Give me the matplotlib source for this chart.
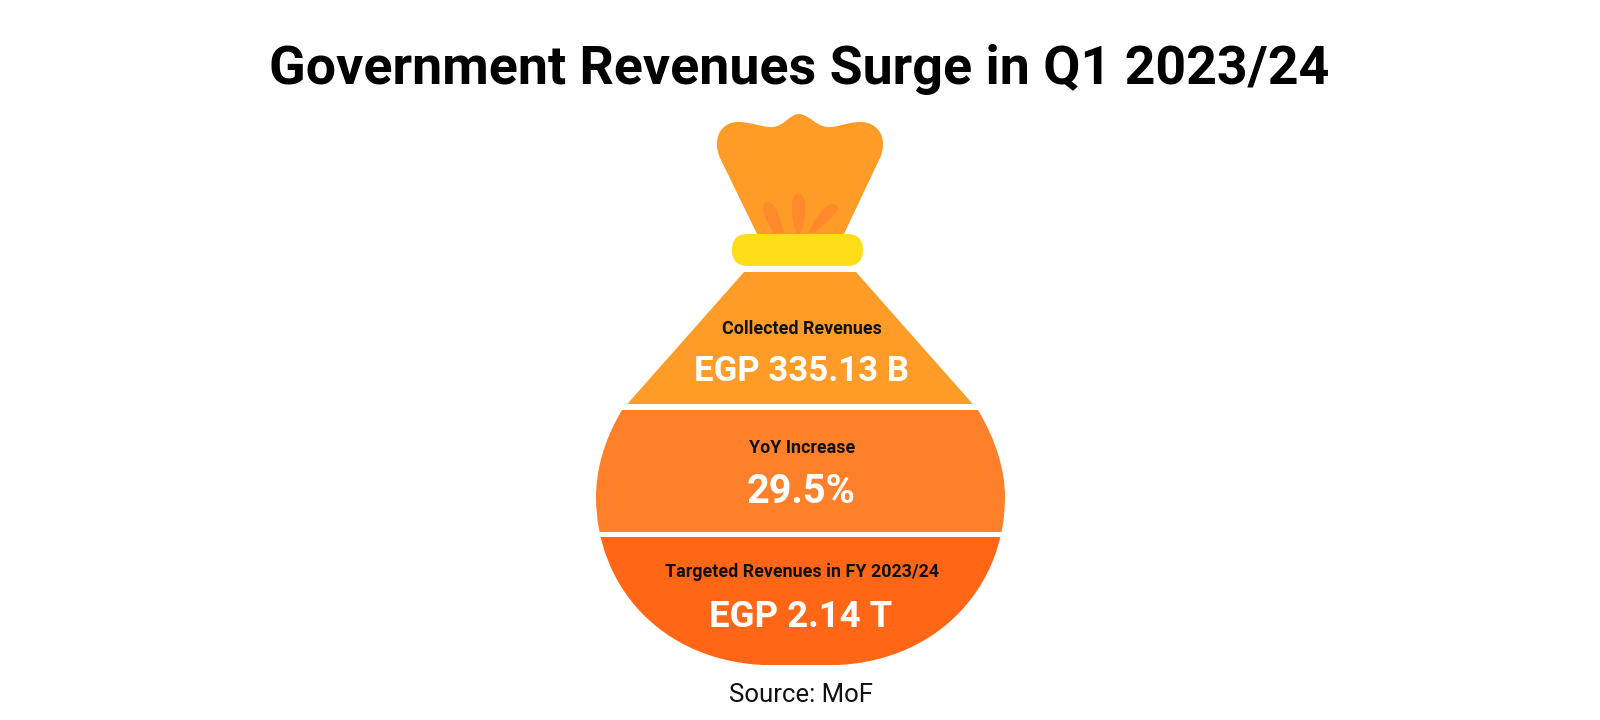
import matplotlib
matplotlib.use("Agg")
import matplotlib.pyplot as plt
import matplotlib.patches as patches
from matplotlib.path import Path

title = "Government Revenues Surge in Q1 2023/24"
source = "Source: MoF"
section_labels = ["Collected Revenues", "YoY Increase", "Targeted Revenues in FY 2023/24"]
section_values = ["EGP 335.13 B", "29.5%", "EGP 2.14 T"]

plt.rcParams['font.family'] = ['Roboto', 'DejaVu Sans']

M, L, C, Z = Path.MOVETO, Path.LINETO, Path.CURVE4, Path.CLOSEPOLY


def make_path(parts):
    # parts is a list of (code, points), curves take three points
    verts, codes = [], []
    for code, pts in parts:
        for p in pts:
            verts.append(p)
            codes.append(code)
    verts.append(verts[0])
    codes.append(Z)
    return Path(verts, codes)


fig = plt.figure(figsize=(16, 7.2), dpi=100)
ax = fig.add_axes([0, 0, 1, 1])
ax.set_xlim(0, 1600)
ax.set_ylim(720, 0)
ax.axis('off')

# neck of the bag
neck = make_path([
    (M, [(758, 236)]),
    (L, [(720, 158)]),
    (C, [(712, 140), (720, 122), (738, 122)]),
    (C, [(752, 122), (764, 128), (773, 127)]),
    (C, [(784, 126), (790, 114), (799, 114)]),
    (C, [(808, 114), (816, 126), (827, 127)]),
    (C, [(836, 128), (848, 122), (860, 122)]),
    (C, [(880, 122), (888, 140), (880, 158)]),
    (L, [(843, 236)]),
])
ax.add_patch(patches.PathPatch(neck, fc='#FF9C28', ec='none', zorder=1))

# folds above the band
folds = [
    [(M, [(784, 233)]), (C, [(780, 215), (775, 202), (767, 202)]),
     (C, [(758, 204), (766, 222), (774, 233)])],
    [(M, [(801, 233)]), (C, [(808, 210), (807, 194), (798, 194)]),
     (C, [(790, 194), (790, 212), (796, 233)])],
    [(M, [(814, 233)]), (C, [(826, 222), (844, 210), (836, 205)]),
     (C, [(828, 200), (816, 216), (808, 233)])],
]
for f in folds:
    ax.add_patch(patches.PathPatch(make_path(f), fc='#FF8A2B', ec='none', zorder=2))

# band
ax.add_patch(patches.FancyBboxPatch((732, 234), 131, 32, boxstyle="round,pad=0,rounding_size=16",
                                    fc='#FFDD17', ec='none', zorder=3))

# body, same outline clipped to three bands
body = make_path([
    (M, [(744, 272)]),
    (L, [(856, 272)]),
    (L, [(978, 410)]),
    (C, [(996, 440), (1005, 470), (1005, 497)]),
    (C, [(1005, 585), (940, 660), (838, 665)]),
    (L, [(763, 665)]),
    (C, [(660, 660), (596, 585), (596, 497)]),
    (C, [(596, 470), (604, 440), (622, 410)]),
])
sections = [(272, 404, '#FF9C28'), (410, 532, '#FF802A'), (537, 670, '#FF6716')]
for top, bottom, color in sections:
    patch = patches.PathPatch(body, fc=color, ec='none', zorder=1)
    ax.add_patch(patch)
    clip = patches.Rectangle((500, top), 600, bottom - top, transform=ax.transData)
    patch.set_clip_path(clip)

label_y = [334, 453, 577]
value_y = [381, 503, 627]
value_sizes = [25, 28.5, 26.3]
for i in range(3):
    ax.text(802, label_y[i], section_labels[i], ha='center', va='baseline', fontsize=12.9,
            fontweight='bold', color='#111111', zorder=5)
    ax.text(801, value_y[i], section_values[i], ha='center', va='baseline', fontsize=value_sizes[i],
            fontweight='bold', color='white', zorder=5)

ax.text(799, 84, title, ha='center', va='baseline', fontsize=38.7, fontweight='bold', color='black')
ax.text(801, 702, source, ha='center', va='baseline', fontsize=18.5, color='#111111')

fig.savefig('out.png', dpi=100, facecolor='white')
